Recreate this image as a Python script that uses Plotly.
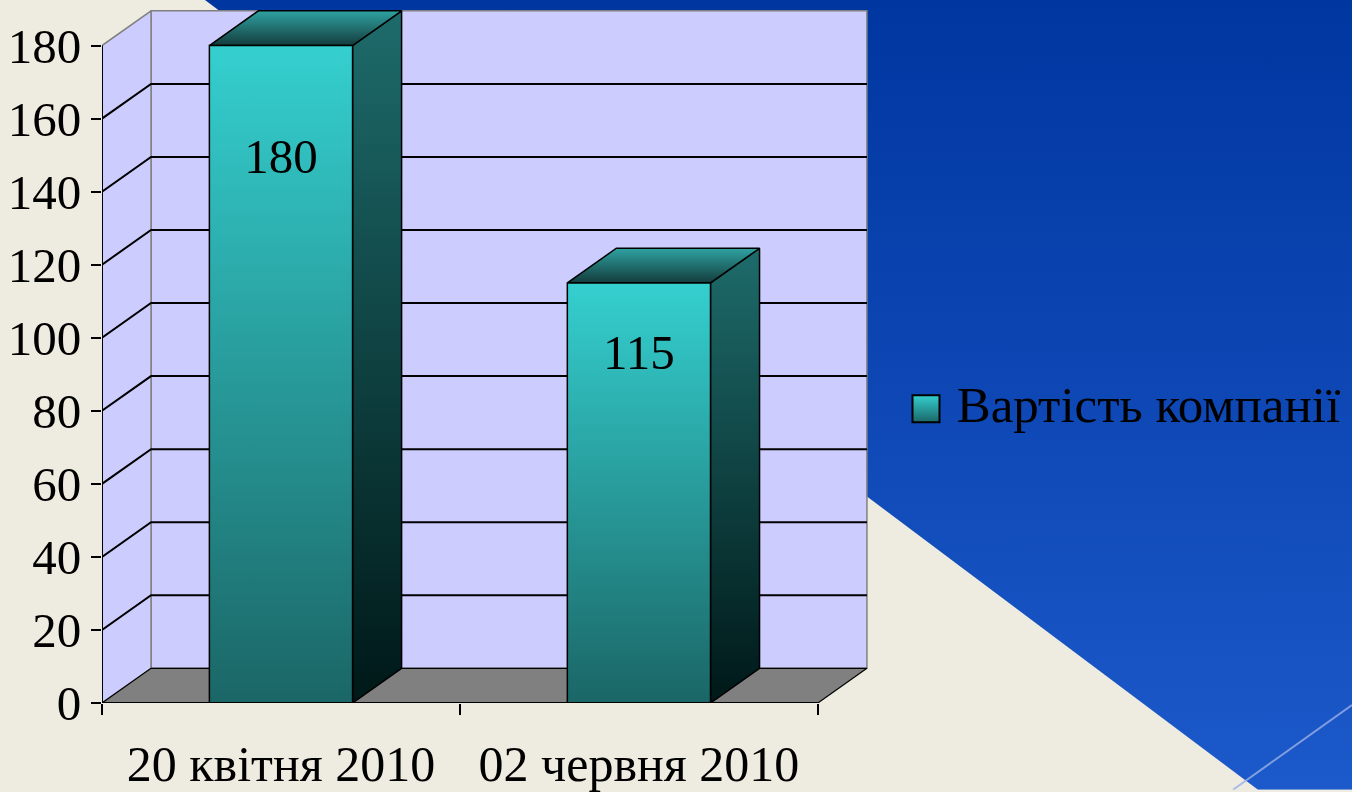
import base64
import plotly.graph_objects as go

# ---------------- data ----------------
categories = ["20 квітня 2010", "02 червня 2010"]
values = [180, 115]
series_name = "Вартість компанії"
y_ticks = [0, 20, 40, 60, 80, 100, 120, 140, 160, 180]

# ---------------- geometry / style ----------------
W, H = 1352, 792
L, R, T, B = 102, 0, 9, 87
PLOT_PX = 766                      # width of the 3-D chart area in px
PW, PH = W - L - R, H - T - B
DOM = PLOT_PX / PW
X_MAX = 2.14
Y_MAX = 190
Y_TOP = 180            # top of walls (front plane)
DX = 0.137             # 3-D depth offset in x units
DY = 9.5               # 3-D depth offset in y units
BAR_W = 0.40
LABEL_FRAC = 0.825
FONT = "Liberation Serif"
FS = 49

n = len(categories)
fig = go.Figure()


def poly(xs, ys, fill=None, line_color="black", line_width=1.5, grad=None):
    kw = dict(x=xs, y=ys, mode="lines", fill="toself",
              line=dict(color=line_color, width=line_width),
              hoverinfo="skip", showlegend=False)
    if grad is not None:
        kw["fillgradient"] = dict(type="vertical", colorscale=grad)
    else:
        kw["fillcolor"] = fill
    fig.add_trace(go.Scatter(**kw))


# back wall
poly([DX, n + DX, n + DX, DX, DX], [DY, DY, Y_TOP + DY, Y_TOP + DY, DY],
     fill="#CCCCFF", line_color="#808080", line_width=1.5)
# side wall
poly([0, DX, DX, 0, 0], [0, DY, Y_TOP + DY, Y_TOP, 0],
     fill="#CCCCFF", line_color="#808080", line_width=1.5)

# gridlines (back wall + side wall diagonals)
gx, gy = [], []
for v in y_ticks[1:-1]:
    gx += [0, DX, n + DX, None]
    gy += [v, v + DY, v + DY, None]
fig.add_trace(go.Scatter(x=gx, y=gy, mode="lines", line=dict(color="black", width=2),
                         hoverinfo="skip", showlegend=False))

# floor
poly([0, DX, n + DX, n, 0], [0, DY, DY, 0, 0], fill="#808080",
     line_color="black", line_width=1.2)

# bars
front_grad = [[0, "#1B6666"], [1, "#35CFCF"]]
side_grad = [[0, "#001818"], [1, "#1E6B6B"]]
top_grad = [[0, "#143C3C"], [1, "#2FA2A2"]]
for i, v in enumerate(values):
    c = i + 0.5
    x0, x1 = c - BAR_W / 2, c + BAR_W / 2
    poly([x1, x1 + DX, x1 + DX, x1, x1], [0, DY, v + DY, v, 0], grad=side_grad)
    poly([x0, x0 + DX, x1 + DX, x1, x0], [v, v + DY, v + DY, v, v], grad=top_grad)
    poly([x0, x1, x1, x0, x0], [0, 0, v, v, 0], grad=front_grad)

# axis lines
fig.add_trace(go.Scatter(x=[0, 0, None, 0, n], y=[0, Y_TOP, None, 0, 0], mode="lines",
                         line=dict(color="black", width=2), hoverinfo="skip",
                         showlegend=False, cliponaxis=False))

# value labels
fig.add_trace(go.Scatter(x=[i + 0.5 for i in range(n)], y=[v * LABEL_FRAC for v in values],
                         mode="text", text=[str(v) for v in values],
                         textfont=dict(family=FONT, size=FS, color="black"),
                         hoverinfo="skip", showlegend=False))

# legend item (large gradient square like the original) on its own axis
LEG_X = (926 - (L + PLOT_PX)) / (W - L - PLOT_PX)
LEG_Y = (H - B - 410) / (PH / Y_MAX)
fig.add_trace(go.Scatter(x=[LEG_X], y=[LEG_Y], xaxis="x2", yaxis="y",
                         mode="markers+text",
                         text=[" " + series_name], textposition="middle right",
                         textfont=dict(family=FONT, size=51, color="black"),
                         marker=dict(symbol="square", size=27, color="#35CFCF",
                                     gradient=dict(type="vertical", color="#1B6666"),
                                     line=dict(color="black", width=2)),
                         cliponaxis=False, hoverinfo="skip", showlegend=False,
                         name=series_name))

# background (cream + blue diagonal panel) as an SVG image
svg = f'''<svg xmlns="http://www.w3.org/2000/svg" width="{W}" height="{H}" viewBox="0 0 {W} {H}">
<defs><linearGradient id="g" x1="0" y1="0" x2="0" y2="1">
<stop offset="0" stop-color="#0036A0"/><stop offset="1" stop-color="#1C59CA"/></linearGradient></defs>
<polygon points="205,0 1352,0 1352,792 1258,792" fill="url(#g)"/>
<line x1="1233" y1="792" x2="1352" y2="707" stroke="#9AB0E6" stroke-width="2" stroke-opacity="0.8"/>
</svg>'''
src = "data:image/svg+xml;base64," + base64.b64encode(svg.encode()).decode()

fig.update_layout(
    width=W, height=H,
    margin=dict(l=L, r=R, t=T, b=B, pad=0),
    paper_bgcolor="#EEECE1",
    plot_bgcolor="rgba(0,0,0,0)",
    showlegend=False,
    images=[dict(source=src, xref="paper", yref="paper",
                 x=-L / PW, y=1 + T / PH, sizex=W / PW, sizey=H / PH,
                 xanchor="left", yanchor="top", sizing="stretch", layer="below")],
    xaxis=dict(domain=[0, DOM], range=[0, X_MAX], showgrid=False, zeroline=False,
               showline=False, tickmode="array", tickvals=[i + 0.5 for i in range(n)],
               ticktext=categories, ticks="", ticklabelstandoff=27,
               tickfont=dict(family=FONT, size=FS + 1, color="black"),
               minor=dict(tickmode="array", tickvals=list(range(n + 1)), ticks="outside",
                          ticklen=11, tickwidth=2, tickcolor="black", showgrid=False)),
    xaxis2=dict(domain=[DOM, 1], range=[0, 1], anchor="y", visible=False),
    yaxis=dict(range=[0, Y_MAX], showgrid=False, zeroline=False, showline=False,
               tickmode="array", tickvals=y_ticks, ticks="outside", ticklen=10,
               tickwidth=2, tickcolor="black",
               tickfont=dict(family=FONT, size=FS, color="black")),
)

fig.write_html("out.html", config={"displayModeBar": False},
               post_script="document.body.style.margin='0px';")
